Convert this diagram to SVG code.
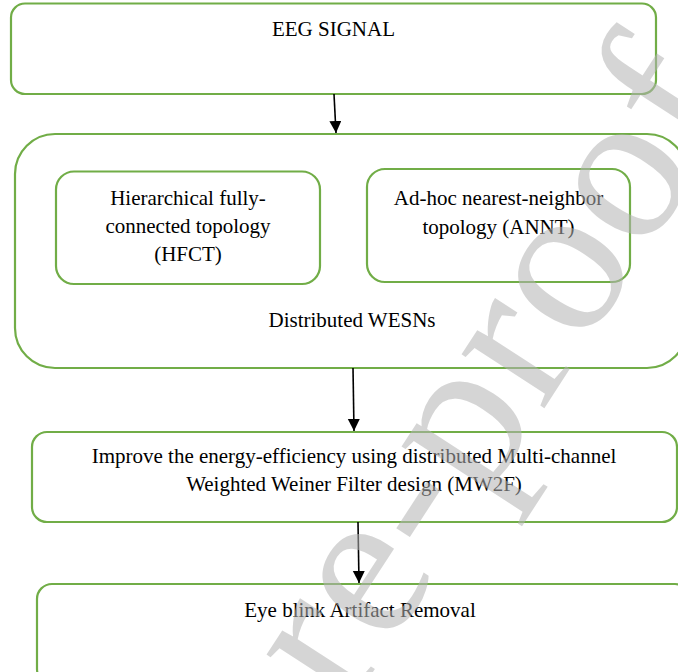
<svg xmlns="http://www.w3.org/2000/svg" width="678" height="672" viewBox="0 0 678 672">
<style>
.box{fill:#ffffff;stroke:#71ad47;stroke-width:2.2}
.lbl{font-family:"Liberation Serif","Times New Roman",serif;font-size:21px;fill:#000;text-anchor:middle}
.conn{stroke:#000;stroke-width:1.6;fill:none}
.wm{font-family:"Liberation Serif","Times New Roman",serif;font-size:215px;letter-spacing:3px;fill:#b4b4b4;opacity:0.55}
</style>
<defs>
<marker id="ah" markerUnits="userSpaceOnUse" markerWidth="13" markerHeight="13" refX="12" refY="6" orient="auto">
<path d="M0,0 L12,6 L0,12 z" fill="#000"/>
</marker>
</defs>
<rect width="678" height="672" fill="#ffffff"/>
<g id="eeg-signal">
<rect class="box" x="11" y="3.5" width="645" height="90.5" rx="14"/>
<text class="lbl" x="333.5" y="36">EEG SIGNAL</text>
</g>
<g id="distributed-wesns">
<rect class="box" x="15" y="134" width="672" height="234" rx="40"/>
<text class="lbl" x="352" y="327">Distributed WESNs</text>
</g>
<g id="hfct">
<rect class="box" x="56" y="171.5" width="264" height="112.5" rx="18"/>
<text class="lbl" x="188" y="205">Hierarchical fully-</text>
<text class="lbl" x="188" y="233">connected topology</text>
<text class="lbl" x="188" y="261">(HFCT)</text>
</g>
<g id="annt">
<rect class="box" x="367" y="169" width="263" height="113" rx="18"/>
<text class="lbl" x="498.5" y="205">Ad-hoc nearest-neighbor</text>
<text class="lbl" x="498.5" y="234">topology (ANNT)</text>
</g>
<g id="mw2f">
<rect class="box" x="32" y="432" width="645" height="90" rx="15"/>
<text class="lbl" x="354" y="463">Improve the energy-efficiency using distributed Multi-channel</text>
<text class="lbl" x="354" y="491">Weighted Weiner Filter design (MW2F)</text>
</g>
<g id="artifact-removal">
<rect class="box" x="37" y="584" width="653" height="100" rx="15"/>
<text class="lbl" x="360" y="617">Eye blink Artifact Removal</text>
</g>
<g id="connectors">
<line class="conn" x1="334" y1="94" x2="336" y2="133" marker-end="url(#ah)"/>
<line class="conn" x1="353" y1="368" x2="354" y2="431" marker-end="url(#ah)"/>
<line class="conn" x1="358" y1="522" x2="359" y2="583" marker-end="url(#ah)"/>
</g>
<text class="wm" transform="translate(347,712) rotate(-57)">re-proof</text>
</svg>
